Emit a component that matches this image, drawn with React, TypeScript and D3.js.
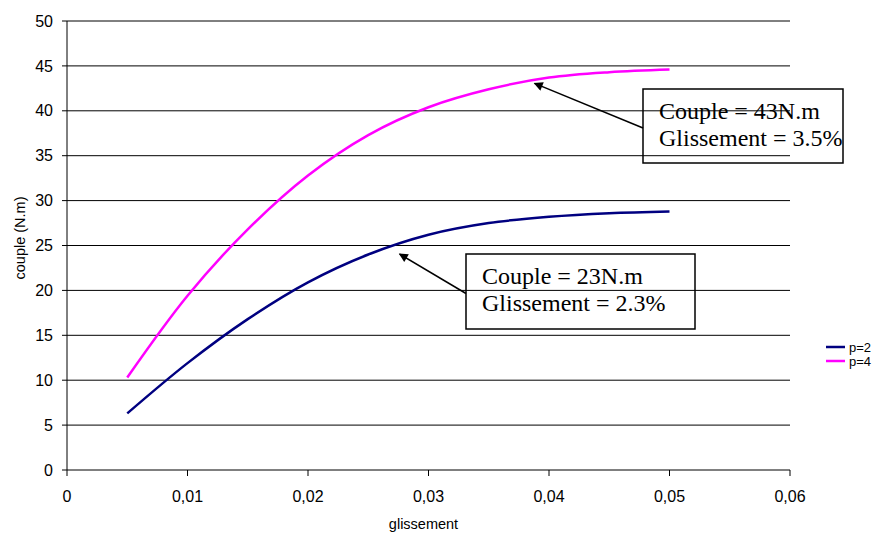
import React from "react";
import * as d3 from "d3";

const slip = [0.005, 0.01, 0.015, 0.02, 0.025, 0.03, 0.035, 0.04, 0.045, 0.05];
const p2 = [6.3, 11.9, 16.8, 20.9, 24.0, 26.2, 27.5, 28.2, 28.6, 28.8];
const p4 = [10.3, 19.4, 26.8, 32.8, 37.3, 40.4, 42.4, 43.7, 44.3, 44.6];
const xTicks = [0, 0.01, 0.02, 0.03, 0.04, 0.05, 0.06];
const xTickLabels = ["0", "0,01", "0,02", "0,03", "0,04", "0,05", "0,06"];
const yTicks = [0, 5, 10, 15, 20, 25, 30, 35, 40, 45, 50];
const seriesNames = ["p=2", "p=4"];
const seriesColors = ["#000080", "#FF00FF"];
const annotations = [
  { lines: ["Couple = 43N.m", "Glissement = 3.5%"], tipX: 0.0388, tipY: 43.05, box: [643, 89, 200, 74] },
  { lines: ["Couple = 23N.m", "Glissement = 2.3%"], tipX: 0.0276, tipY: 24.05, box: [466, 254, 229, 75] },
];

export default function App() {
  const W = 884, H = 539;
  const left = 67, right = 790, top = 21, bottom = 470;
  const x = d3.scaleLinear().domain([0, 0.06]).range([left, right]);
  const y = d3.scaleLinear().domain([0, 50]).range([bottom, top]);
  const line = d3
    .line<[number, number]>()
    .x((d) => x(d[0]))
    .y((d) => y(d[1]))
    .curve(d3.curveCatmullRom.alpha(0.5));
  const series = [p2, p4];
  return (
    <svg width={W} height={H} style={{ position: "absolute", left: 0, top: 0, background: "#fff" }}>
      <defs>
        <marker id="ah" viewBox="0 0 10 10" refX="9" refY="5" markerWidth="13" markerHeight="9" markerUnits="userSpaceOnUse" orient="auto">
          <path d="M0,0 L10,5 L0,10 Z" fill="#000" />
        </marker>
      </defs>
      {yTicks.map((t) => (
        <g key={"y" + t}>
          <line x1={left - 5} x2={right} y1={y(t)} y2={y(t)} stroke="#000" strokeWidth={1} />
          <text x={53} y={y(t)} dy="0.35em" textAnchor="end" fontFamily="Arial, Liberation Sans" fontSize={16}>
            {t}
          </text>
        </g>
      ))}
      <line x1={left} x2={left} y1={top} y2={bottom} stroke="#000" strokeWidth={1} />
      {xTicks.map((t, i) => (
        <g key={"x" + t}>
          <line x1={x(t)} x2={x(t)} y1={bottom} y2={bottom + 6} stroke="#000" strokeWidth={1} />
          <text x={x(t)} y={502} textAnchor="middle" fontFamily="Arial, Liberation Sans" fontSize={16}>
            {xTickLabels[i]}
          </text>
        </g>
      ))}
      <text x={(left + right) / 2 - 5} y={529} textAnchor="middle" fontFamily="Arial, Liberation Sans" fontSize={14.5}>
        glissement
      </text>
      <text
        transform={`translate(25,${238}) rotate(-90)`}
        textAnchor="middle"
        fontFamily="Arial, Liberation Sans"
        fontSize={14.5}
      >
        couple (N.m)
      </text>
      {series.map((s, i) => (
        <path
          key={"s" + i}
          d={line(slip.map((v, j) => [v, s[j]] as [number, number])) || ""}
          fill="none"
          stroke={seriesColors[i]}
          strokeWidth={2.5}
        />
      ))}
      {annotations.map((a, i) => {
        const [bx, by, bw, bh] = a.box;
        return (
          <g key={"a" + i}>
            <line
              x1={bx}
              y1={by + bh / 2 + 2}
              x2={x(a.tipX)}
              y2={y(a.tipY)}
              stroke="#000"
              strokeWidth={1.5}
              markerEnd="url(#ah)"
            />
            <rect x={bx} y={by} width={bw} height={bh} fill="none" stroke="#000" strokeWidth={1.5} />
            {a.lines.map((l, k) => (
              <text key={k} x={bx + 16} y={by + 30 + k * 27} fontFamily="Liberation Serif, Times New Roman" fontSize={24}>
                {l}
              </text>
            ))}
          </g>
        );
      })}
      {seriesNames.map((n, i) => (
        <g key={"l" + i}>
          <line x1={826} x2={845} y1={347 + i * 14} y2={347 + i * 14} stroke={seriesColors[i]} strokeWidth={2.5} />
          <text x={849} y={347 + i * 14} dy="0.35em" fontFamily="Arial, Liberation Sans" fontSize={13}>
            {n}
          </text>
        </g>
      ))}
    </svg>
  );
}
